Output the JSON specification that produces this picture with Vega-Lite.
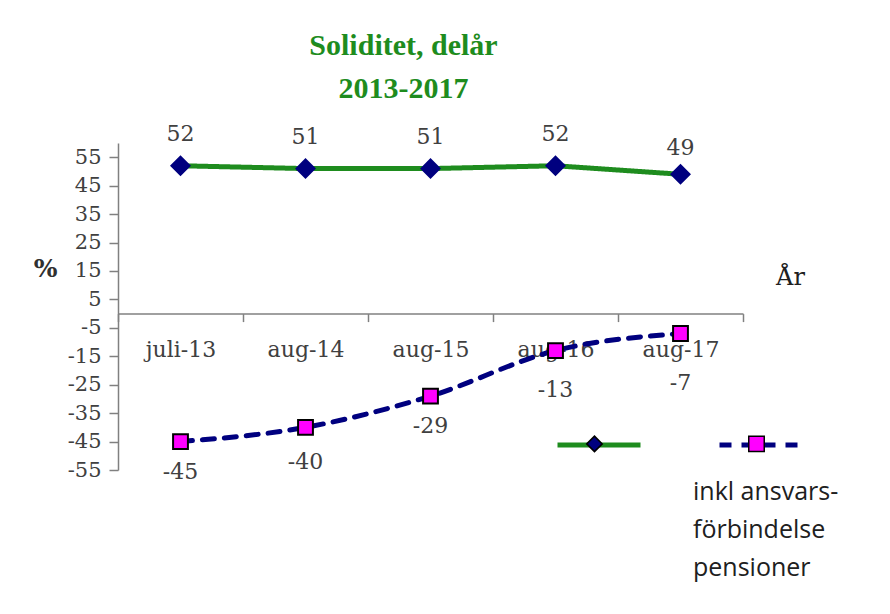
{
  "$schema": "https://vega.github.io/schema/vega-lite/v6.json",
  "width": 625,
  "height": 327,
  "autosize": "none",
  "padding": {"left": 118, "top": 143, "right": 147, "bottom": 144},
  "background": "white",
  "config": {"view": {"stroke": null}, "font": "DejaVu Serif"},
  "title": {
    "text": ["Soliditet, delår", "2013-2017"],
    "font": "Liberation Serif",
    "fontSize": 30,
    "fontWeight": "bold",
    "color": "#1e8c1e",
    "lineHeight": 43,
    "offset": 19,
    "dx": -27,
    "anchor": "middle"
  },
  "data": {
    "values": [
      {"period": "juli-13", "serie": "Soliditet", "value": 52},
      {"period": "aug-14", "serie": "Soliditet", "value": 51},
      {"period": "aug-15", "serie": "Soliditet", "value": 51},
      {"period": "aug-16", "serie": "Soliditet", "value": 52},
      {"period": "aug-17", "serie": "Soliditet", "value": 49},
      {"period": "juli-13", "serie": "Soliditet inkl ansvarsförbindelse pensioner", "value": -45},
      {"period": "aug-14", "serie": "Soliditet inkl ansvarsförbindelse pensioner", "value": -40},
      {"period": "aug-15", "serie": "Soliditet inkl ansvarsförbindelse pensioner", "value": -29},
      {"period": "aug-16", "serie": "Soliditet inkl ansvarsförbindelse pensioner", "value": -13},
      {"period": "aug-17", "serie": "Soliditet inkl ansvarsförbindelse pensioner", "value": -7}
    ]
  },
  "encoding": {
    "x": {
      "field": "period",
      "type": "ordinal",
      "sort": null,
      "scale": {"type": "band", "paddingInner": 0, "paddingOuter": 0},
      "axis": {
        "orient": "bottom",
        "offset": -156.4,
        "domainColor": "#808080",
        "domainWidth": 1.5,
        "tickColor": "#808080",
        "tickWidth": 1.5,
        "tickSize": 8,
        "tickBand": "extent",
        "labelFont": "DejaVu Serif",
        "labelFontSize": 22,
        "labelColor": "#404040",
        "labelPadding": 18,
        "labelAngle": 0,
        "grid": false,
        "title": "År",
        "titleFont": "DejaVu Serif",
        "titleFontSize": 24,
        "titleFontWeight": "normal",
        "titleColor": "#202020",
        "titleX": 672,
        "titleY": -36,
        "titleAlign": "center",
        "titleBaseline": "middle"
      }
    },
    "y": {
      "field": "value",
      "type": "quantitative",
      "scale": {"domain": [-55, 60], "nice": false, "zero": false},
      "axis": {
        "values": [-55, -45, -35, -25, -15, -5, 5, 15, 25, 35, 45, 55],
        "labelExpr": "replace(datum.label, '−', '-')",
        "domainColor": "#808080",
        "domainWidth": 1.5,
        "tickColor": "#808080",
        "tickWidth": 1.5,
        "tickSize": 9,
        "labelFont": "DejaVu Serif",
        "labelFontSize": 21,
        "labelColor": "#404040",
        "labelPadding": 8,
        "labelOverlap": false,
        "labelFlush": false,
        "grid": false,
        "title": "%",
        "titleFont": "DejaVu Serif",
        "titleFontSize": 25,
        "titleFontWeight": "bold",
        "titleColor": "#303030",
        "titleAngle": 0,
        "titleX": -73,
        "titleY": 125,
        "titleAlign": "center",
        "titleBaseline": "middle"
      }
    }
  },
  "layer": [
    {
      "transform": [{"filter": "datum.serie == 'Soliditet'"}],
      "mark": {"type": "line", "strokeWidth": 5, "interpolate": "linear", "strokeCap": "round"},
      "encoding": {
        "color": {
          "field": "serie",
          "type": "nominal",
          "scale": {"domain": ["Soliditet", "Soliditet inkl ansvarsförbindelse pensioner"], "range": ["#1e8c1e", "#00007f"]},
          "legend": {
            "orient": "none",
            "legendX": 437,
            "legendY": 258,
            "direction": "horizontal",
            "title": null,
            "symbolType": "stroke",
            "symbolSize": 6889,
            "symbolStrokeWidth": 5,
            "labelExpr": "''",
            "labelOffset": 0,
            "columnPadding": 58,
            "padding": 0
          }
        },
        "strokeDash": {
          "field": "serie",
          "type": "nominal",
          "scale": {"domain": ["Soliditet", "Soliditet inkl ansvarsförbindelse pensioner"], "range": [[1, 0], [12, 10]]}
        }
      }
    },
    {
      "transform": [{"filter": "datum.serie != 'Soliditet'"}],
      "mark": {"type": "line", "strokeWidth": 5, "interpolate": "monotone", "strokeCap": "round"},
      "encoding": {
        "color": {"field": "serie", "type": "nominal"},
        "strokeDash": {"field": "serie", "type": "nominal"}
      }
    },
    {
      "mark": {"type": "point", "filled": true, "opacity": 1},
      "encoding": {
        "shape": {
          "field": "serie",
          "type": "nominal",
          "scale": {"range": ["diamond", "square"]},
          "legend": {
            "orient": "none",
            "legendX": 468,
            "legendY": 292,
            "direction": "horizontal",
            "title": ["inkl ansvars-", "förbindelse", "pensioner"],
            "titleOrient": "bottom",
            "titleAnchor": "end",
            "titleAlign": "left",
            "titleFont": "Open Sans",
            "titleFontSize": 25,
            "titleFontWeight": "normal",
            "titleColor": "#202020",
            "titleLineHeight": 38,
            "titlePadding": 25,
            "titleLimit": 400,
            "symbolSize": 240,
            "labelExpr": "''",
            "labelOffset": 0,
            "columnPadding": 139,
            "padding": 0,
            "encoding": {
              "title": {"dx": {"value": -74}}
            }
          }
        },
        "fill": {
          "field": "serie",
          "type": "nominal",
          "scale": {"range": ["#00007f", "#ff00ff"]}
        },
        "stroke": {
          "condition": {"test": "datum.serie == 'Soliditet'", "value": "#00007f"},
          "value": "#000000"
        },
        "strokeWidth": {"value": 2},
        "size": {
          "condition": {"test": "datum.serie == 'Soliditet'", "value": 330},
          "value": 220
        }
      }
    },
    {
      "transform": [{"filter": "datum.serie == 'Soliditet'"}],
      "mark": {"type": "text", "dy": {"expr": "datum.value < 50 ? -26 : -32"}, "font": "DejaVu Serif", "fontSize": 22, "color": "#404040"},
      "encoding": {"text": {"field": "value", "type": "nominal"}}
    },
    {
      "transform": [{"filter": "datum.serie != 'Soliditet'"}],
      "mark": {"type": "text", "dy": {"expr": "datum.value > -10 ? 49 : datum.value > -20 ? 39 : datum.value > -35 ? 30 : datum.value > -42 ? 35 : 30"}, "font": "DejaVu Serif", "fontSize": 22, "color": "#404040"},
      "encoding": {"text": {"field": "value", "type": "nominal"}}
    }
  ]
}
